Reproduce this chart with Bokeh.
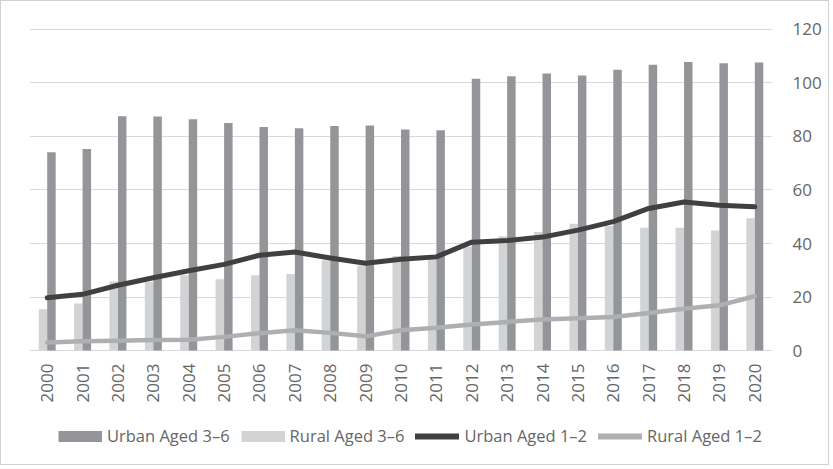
import math
from bokeh.plotting import figure
from bokeh.models import Range1d, FactorRange, ColumnDataSource, Legend, LegendItem, FixedTicker
from bokeh.core.properties import value
from bokeh.transform import dodge
from bokeh.embed import file_html
from bokeh.resources import INLINE

years = ["2000", "2001", "2002", "2003", "2004", "2005", "2006", "2007", "2008", "2009",
         "2010", "2011", "2012", "2013", "2014", "2015", "2016", "2017", "2018", "2019", "2020"]
urban_3_6 = [74.1, 75.3, 87.6, 87.5, 86.4, 85.0, 83.5, 83.1, 83.9, 84.1, 82.6, 82.3,
             101.6, 102.5, 103.5, 102.8, 104.9, 106.8, 107.8, 107.4, 107.6]
rural_3_6 = [15.4, 17.6, 25.8, 25.6, 28.1, 26.6, 28.1, 28.6, 33.7, 31.8, 35.3, 34.4,
             38.7, 42.7, 44.3, 47.4, 46.5, 45.9, 45.9, 44.9, 49.4]
urban_1_2 = [19.7, 21.0, 24.4, 27.2, 29.8, 32.2, 35.6, 36.8, 34.6, 32.6, 34.1, 35.0,
             40.5, 41.1, 42.4, 45.0, 48.2, 53.1, 55.5, 54.3, 53.7]
rural_1_2 = [3.0, 3.5, 3.7, 3.9, 4.0, 5.1, 6.5, 7.6, 6.6, 5.3, 7.6, 8.5,
             9.7, 10.7, 11.6, 12.1, 12.5, 14.0, 15.6, 16.9, 20.3]
y_ticks = [0, 20, 40, 60, 80, 100, 120]
labels = ["Urban Aged 3–6", "Rural Aged 3–6", "Urban Aged 1–2", "Rural Aged 1–2"]

C_U36 = "#939598"
C_R36 = "#d2d3d5"
C_U12 = "#404040"
C_R12 = "#adafb1"
GRID = "#d9d9d9"
TXT = "#666666"
FONT = "Open Sans"
LABEL_OFFSET = -4.9   # data units below zero where the year labels start

src = ColumnDataSource(dict(year=years, u36=urban_3_6, r36=rural_3_6, u12=urban_1_2, r12=rural_1_2,
                            lab_y=[LABEL_OFFSET] * len(years)))

p = figure(width=829, height=465, x_range=FactorRange(factors=years), y_range=Range1d(-41.1, 121.1),
           y_axis_location="right", x_axis_location=None, output_backend="svg", toolbar_location=None,
           min_border_left=28, min_border_right=58, min_border_top=25, min_border_bottom=6)
p.styles = {"border": "1px solid #d0d0d0"}
p.outline_line_color = None
p.background_fill_color = "white"

p.xgrid.grid_line_color = None
p.ygrid.ticker = FixedTicker(ticks=y_ticks)
p.ygrid.grid_line_color = GRID
p.ygrid.grid_line_width = 1

p.vbar(x=dodge("year", -0.12, range=p.x_range), top="r36", bottom=0, width=0.24, source=src,
       fill_color=C_R36, line_color=None)
p.vbar(x=dodge("year", 0.12, range=p.x_range), top="u36", bottom=0, width=0.24, source=src,
       fill_color=C_U36, line_color=None)
p.line(x="year", y="u12", source=src, line_color=C_U12, line_width=5, line_cap="round", line_join="round")
p.line(x="year", y="r12", source=src, line_color=C_R12, line_width=4.5, line_cap="round", line_join="round")

# category labels (rotated, reading upwards)
p.text(x="year", y="lab_y", text="year", source=src, angle=math.pi / 2, text_align="right",
       text_baseline="middle", text_font=value(FONT), text_font_size="17px", text_color=TXT)

# legend swatches (renderers with a single NaN point draw nothing in the plot)
nan = float("nan")
d1 = p.line(x=[years[0]], y=[nan], line_color=C_U36, line_width=11, line_cap="butt")
d2 = p.line(x=[years[0]], y=[nan], line_color=C_R36, line_width=11, line_cap="butt")
d3 = p.line(x=[years[0]], y=[nan], line_color=C_U12, line_width=6, line_cap="round")
d4 = p.line(x=[years[0]], y=[nan], line_color=C_R12, line_width=6, line_cap="round")
legend = Legend(items=[LegendItem(label=labels[0], renderers=[d1]),
                       LegendItem(label=labels[1], renderers=[d2]),
                       LegendItem(label=labels[2], renderers=[d3]),
                       LegendItem(label=labels[3], renderers=[d4])],
                orientation="horizontal", location=(29, 13), glyph_width=44, glyph_height=20,
                label_standoff=5, spacing=11, padding=0, margin=0, border_line_color=None,
                background_fill_alpha=0, label_text_font=FONT, label_text_font_size="16.5px",
                label_text_color=TXT)
p.add_layout(legend)

p.yaxis.ticker = FixedTicker(ticks=y_ticks)
p.yaxis.axis_line_color = None
p.yaxis.major_tick_line_color = None
p.yaxis.minor_tick_line_color = None
p.yaxis.major_tick_out = 0
p.yaxis.major_label_standoff = 20
p.yaxis.major_label_text_font = FONT
p.yaxis.major_label_text_font_size = "17px"
p.yaxis.major_label_text_color = TXT

open("out.html", "w").write(file_html(p, INLINE))
